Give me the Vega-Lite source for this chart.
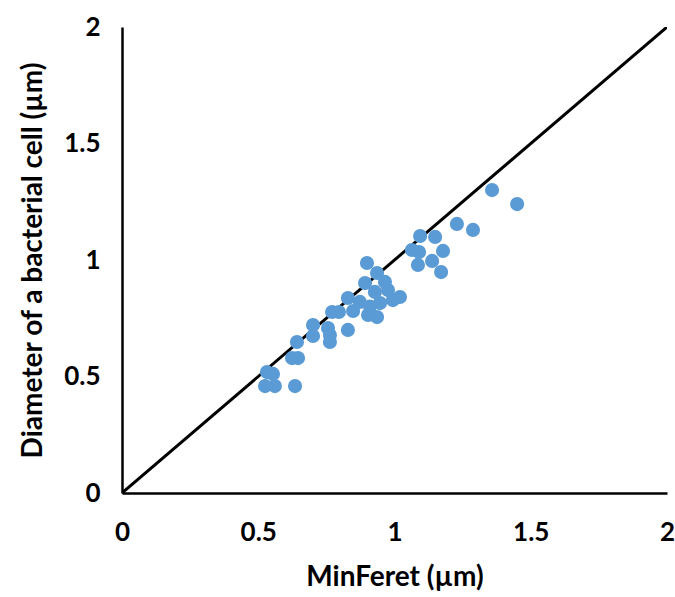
{
  "$schema": "https://vega.github.io/schema/vega-lite/v6.json",
  "autosize": "none",
  "width": 545,
  "height": 466,
  "padding": {"left": 122, "top": 27, "right": 8, "bottom": 104},
  "background": "white",
  "config": {
    "view": {"stroke": null},
    "font": "Lato",
    "axis": {
      "grid": false,
      "ticks": false,
      "domainColor": "black",
      "domainWidth": 2.5,
      "labelFont": "Lato",
      "labelFontWeight": "bold",
      "labelFontSize": 26,
      "labelColor": "black",
      "titleFont": "Lato",
      "titleFontWeight": "bold",
      "titleFontSize": 28,
      "titleColor": "black"
    }
  },
  "layer": [
    {
      "data": {"values": [{"x": 0, "y": 0}, {"x": 2, "y": 2}]},
      "mark": {"type": "line", "color": "black", "strokeWidth": 3, "clip": true},
      "encoding": {
        "x": {"field": "x", "type": "quantitative"},
        "y": {"field": "y", "type": "quantitative"}
      }
    },
    {
      "data": {"values": [
        {"x": 1.358, "y": 1.300}, {"x": 1.450, "y": 1.240}, {"x": 1.229, "y": 1.155},
        {"x": 1.288, "y": 1.129}, {"x": 1.094, "y": 1.103}, {"x": 1.149, "y": 1.099},
        {"x": 1.178, "y": 1.039}, {"x": 1.064, "y": 1.043}, {"x": 1.090, "y": 1.034},
        {"x": 1.138, "y": 0.996}, {"x": 1.086, "y": 0.979}, {"x": 1.171, "y": 0.948},
        {"x": 0.899, "y": 0.987}, {"x": 0.936, "y": 0.944}, {"x": 0.965, "y": 0.906},
        {"x": 0.892, "y": 0.901}, {"x": 0.928, "y": 0.863}, {"x": 0.976, "y": 0.871},
        {"x": 0.829, "y": 0.837}, {"x": 0.873, "y": 0.820}, {"x": 1.020, "y": 0.841},
        {"x": 0.994, "y": 0.828}, {"x": 0.947, "y": 0.815}, {"x": 0.910, "y": 0.800},
        {"x": 0.848, "y": 0.781}, {"x": 0.903, "y": 0.764}, {"x": 0.936, "y": 0.755},
        {"x": 0.771, "y": 0.777}, {"x": 0.796, "y": 0.777}, {"x": 0.829, "y": 0.700},
        {"x": 0.701, "y": 0.721}, {"x": 0.756, "y": 0.708}, {"x": 0.763, "y": 0.678},
        {"x": 0.701, "y": 0.674}, {"x": 0.763, "y": 0.648}, {"x": 0.642, "y": 0.648},
        {"x": 0.624, "y": 0.579}, {"x": 0.646, "y": 0.579}, {"x": 0.532, "y": 0.519},
        {"x": 0.554, "y": 0.511}, {"x": 0.525, "y": 0.459}, {"x": 0.561, "y": 0.459},
        {"x": 0.635, "y": 0.459}
      ]},
      "mark": {"type": "circle", "color": "#5B9BD5", "opacity": 1, "size": 200},
      "encoding": {
        "x": {"field": "x", "type": "quantitative",
              "scale": {"domain": [0, 2], "nice": false, "zero": true},
              "axis": {"values": [0, 0.5, 1, 1.5, 2], "format": "~g", "labelPadding": 26, "title": "MinFeret (µm)", "titlePadding": 18, "labelFlush": false}},
        "y": {"field": "y", "type": "quantitative",
              "scale": {"domain": [0, 2], "nice": false, "zero": true},
              "axis": {"values": [0, 0.5, 1, 1.5, 2], "format": "~g", "labelPadding": 22, "title": "Diameter of a bacterial cell (µm)", "titlePadding": 16, "labelFlush": false}}
      }
    }
  ]
}
